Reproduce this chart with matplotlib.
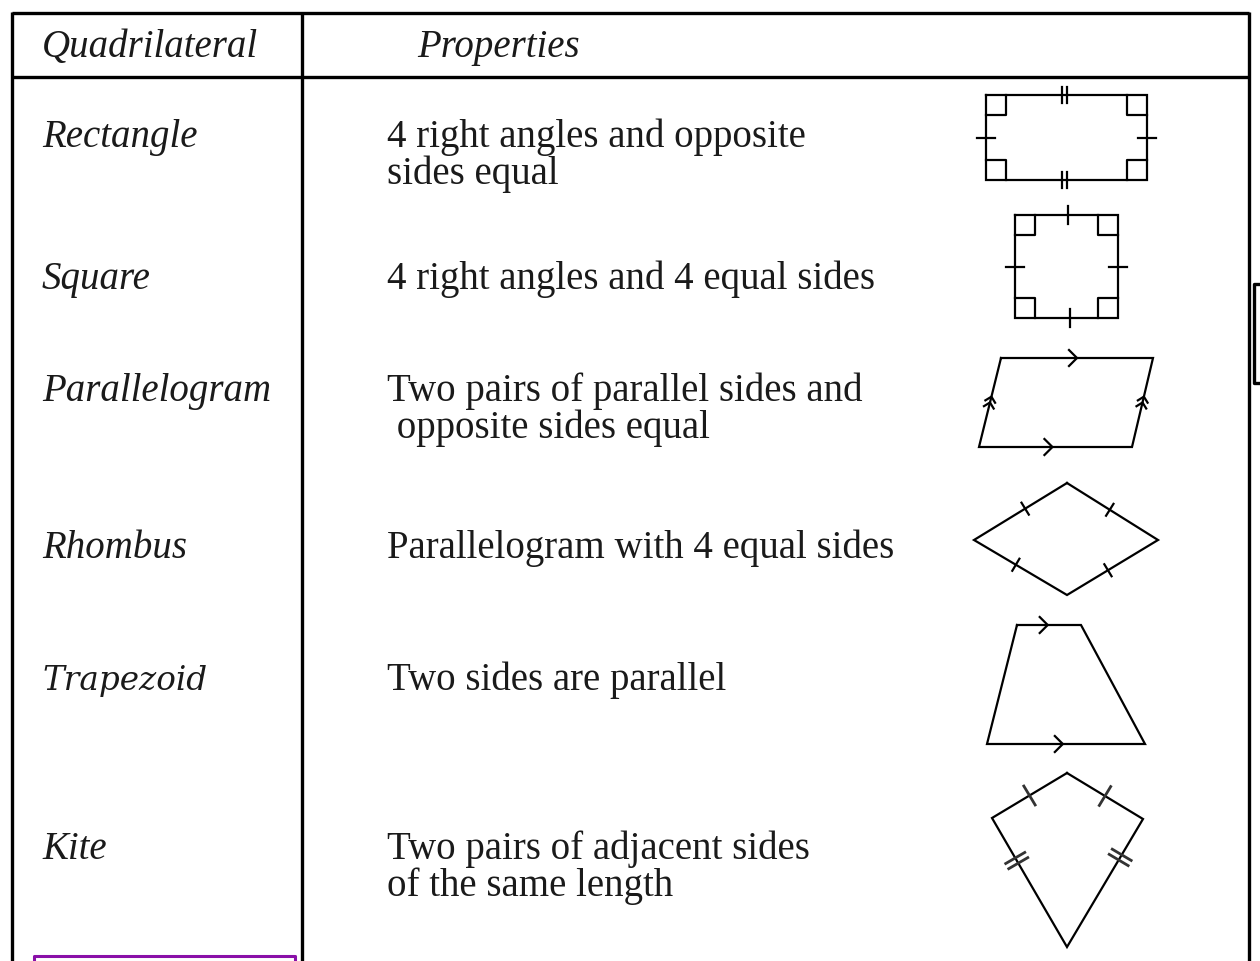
import numpy as np
import matplotlib.pyplot as plt

# table content
header = ["Quadrilateral", "Properties"]
names = ["Rectangle", "Square", "Parallelogram", "Rhombus", "Trapezoid", "Kite"]
props = [["4 right angles and opposite", "sides equal"],
         ["4 right angles and 4 equal sides"],
         ["Two pairs of parallel sides and", " opposite sides equal"],
         ["Parallelogram with 4 equal sides"],
         ["Two sides are parallel"],
         ["Two pairs of adjacent sides", "of the same length"]]

# shape outlines (pixel coords of the picture)
rect_pts = [(986, 95), (1147, 95), (1147, 180), (986, 180)]
square_pts = [(1015, 215), (1118, 215), (1118, 318), (1015, 318)]
para_pts = [(1001, 358), (1153, 358), (1132, 447), (979, 447)]
rhombus_pts = [(1067, 483), (1158, 540), (1067, 595), (974, 540)]
trap_pts = [(1017, 625), (1081, 625), (1145, 744), (987, 744)]
kite_pts = [(1067, 773), (1143, 819), (1067, 947), (992, 818)]

# layout
name_x = 42
prop_x = 387
row_base = [147, 289, 401, 558, 690, 859]
line_gap = 37
serif = "Liberation Serif"
fs = 28
lw_shape = 1.6
txt_col = '#1a1a1a'

fig = plt.figure(figsize=(12.6, 9.61), dpi=100)
ax = fig.add_axes([0, 0, 1, 1])
ax.set_xlim(0, 1260)
ax.set_ylim(961, 0)
ax.axis('off')

# table frame
tk = dict(color='black', lw=2.4, solid_capstyle='butt')
ax.plot([12, 1249], [13, 13], **tk)
ax.plot([12, 1249], [77, 77], **tk)
ax.plot([12, 12], [12, 961], **tk)
ax.plot([302, 302], [13, 961], **tk)
ax.plot([1249, 1249], [12, 961], **tk)
# bracket at right edge
ax.plot([1262, 1254, 1254, 1262], [284, 284, 383, 383], color='black', lw=2.4)
# purple box at bottom
ax.plot([34, 34, 295, 295], [965, 956, 956, 965], color='#8a10a8', lw=2.2)

# header
ax.text(name_x, 57, header[0], fontsize=fs, family=serif, style='italic', color=txt_col)
ax.text(417, 57, header[1], fontsize=fs, family=serif, style='italic', color=txt_col)

for i, nm in enumerate(names):
    if nm == "Trapezoid":
        ax.text(name_x, row_base[i], nm, fontsize=23.5, family='DejaVu Serif', style='italic', color=txt_col)
    else:
        ax.text(name_x, row_base[i], nm, fontsize=fs, family=serif, style='italic', color=txt_col)
    for j, ln in enumerate(props[i]):
        ax.text(prop_x, row_base[i] + j * line_gap, ln, fontsize=fs, family=serif, color=txt_col)


def outline(pts):
    p = np.array(pts + [pts[0]], dtype=float)
    ax.plot(p[:, 0], p[:, 1], color='black', lw=lw_shape, solid_joinstyle='miter')


def ticks(a, b, n=1, t=0.5, size=9, gap=5, color='black', lw=lw_shape):
    a, b = np.array(a, float), np.array(b, float)
    d = (b - a) / np.linalg.norm(b - a)
    nrm = np.array([-d[1], d[0]])
    c = a + (b - a) * t
    for k in range(n):
        off = (k - (n - 1) / 2) * gap
        m = c + d * off
        p1, p2 = m - nrm * size, m + nrm * size
        ax.plot([p1[0], p2[0]], [p1[1], p2[1]], color=color, lw=lw)


def chevron(a, b, t=0.5, n=1, size=8, gap=7):
    a, b = np.array(a, float), np.array(b, float)
    d = (b - a) / np.linalg.norm(b - a)
    nrm = np.array([-d[1], d[0]])
    c = a + (b - a) * t
    for k in range(n):
        tip = c + d * (k * gap)
        p1 = tip - d * size + nrm * size
        p2 = tip - d * size - nrm * size
        ax.plot([p1[0], tip[0], p2[0]], [p1[1], tip[1], p2[1]], color='black', lw=lw_shape)


def right_angles(pts, s=20):
    p = np.array(pts, float)
    for i in range(4):
        c = p[i]
        u = (p[(i + 1) % 4] - c)
        u = u / np.linalg.norm(u)
        v = (p[i - 1] - c)
        v = v / np.linalg.norm(v)
        q = np.array([c + u * s, c + u * s + v * s, c + v * s])
        ax.plot(q[:, 0], q[:, 1], color='black', lw=lw_shape)


# rectangle
outline(rect_pts)
right_angles(rect_pts)
ticks(rect_pts[0], rect_pts[1], n=2, t=0.49, size=8)
ticks(rect_pts[3], rect_pts[2], n=2, t=0.49, size=8)
ticks(rect_pts[0], rect_pts[3], t=0.5)
ticks(rect_pts[1], rect_pts[2], t=0.5)

# square
outline(square_pts)
right_angles(square_pts)
ticks(square_pts[0], square_pts[1], t=0.51)
ticks(square_pts[3], square_pts[2], t=0.53)
ticks(square_pts[0], square_pts[3], t=0.5)
ticks(square_pts[1], square_pts[2], t=0.5)

# parallelogram
outline(para_pts)
chevron(para_pts[0], para_pts[1], t=0.5)
chevron(para_pts[3], para_pts[2], t=0.48)
chevron(para_pts[3], para_pts[0], t=0.5, n=2, size=5, gap=6)
chevron(para_pts[2], para_pts[1], t=0.5, n=2, size=5, gap=6)

# rhombus
outline(rhombus_pts)
ticks(rhombus_pts[3], rhombus_pts[0], t=0.55, size=7)
ticks(rhombus_pts[0], rhombus_pts[1], t=0.47, size=7)
ticks(rhombus_pts[3], rhombus_pts[2], t=0.45, size=7)
ticks(rhombus_pts[2], rhombus_pts[1], t=0.45, size=7)

# trapezoid
outline(trap_pts)
chevron(trap_pts[0], trap_pts[1], t=0.48)
chevron(trap_pts[3], trap_pts[2], t=0.48)

# kite
outline(kite_pts)
ticks(kite_pts[3], kite_pts[0], t=0.5, size=11, color='#333333', lw=2)
ticks(kite_pts[0], kite_pts[1], t=0.5, size=11, color='#333333', lw=2)
ticks(kite_pts[3], kite_pts[2], t=0.33, n=2, size=11, gap=6, color='#333333', lw=2)
ticks(kite_pts[1], kite_pts[2], t=0.3, n=2, size=11, gap=6, color='#333333', lw=2)

fig.savefig("out.png", dpi=100)
